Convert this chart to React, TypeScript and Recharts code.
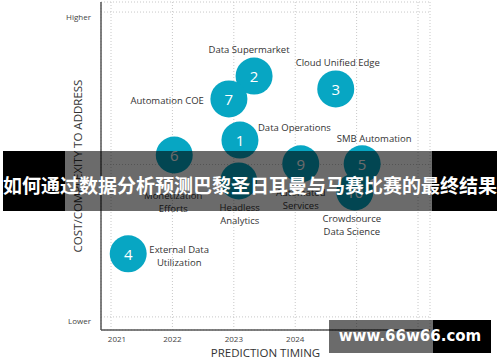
import React from "react";
import { ScatterChart, Scatter, XAxis, YAxis, CartesianGrid, Label } from "recharts";

// bubble data (x = expected year, y = cost / complexity, 0 lower .. 10 higher)
const ids = [1, 2, 3, 4, 5, 6, 7, 8, 9, 10];
const names = [
  "Data Operations",
  "Data Supermarket",
  "Cloud Unified Edge",
  "External Data\nUtilization",
  "SMB Automation",
  "Monetization\nEfforts",
  "Automation COE",
  "Headless\nAnalytics",
  "Automated\nServices",
  "Crowdsource\nData Science",
];
const timing = [2023.1, 2023.33, 2024.66, 2021.28, 2025.09, 2022.03, 2022.92, 2023.08, 2024.09, 2024.97];
const complexity = [5.8, 7.9, 7.48, 2.07, 5.02, 5.31, 7.15, 4.46, 5.02, 4.1];

const gridYears = [2021, 2022, 2023, 2024, 2025, 2026];
const yearLabels = [2021, 2022, 2023, 2024];
const levelTicks = [0, 5, 10];
const levelLabels = ["Lower", "", "Higher"];

const title = "如何通过数据分析预测巴黎圣日耳曼与马赛比赛的最终结果";
const watermark = "www.66w66.com";

// where each bubble's caption sits relative to the bubble centre
const captionPlace: { dx: number; dy: number; anchor: "start" | "middle" | "end" }[] = [
  { dx: 18, dy: -13, anchor: "start" },
  { dx: -5, dy: -27, anchor: "middle" },
  { dx: 2, dy: -27, anchor: "middle" },
  { dx: 51, dy: -5, anchor: "middle" },
  { dx: 12, dy: -26, anchor: "middle" },
  { dx: -1, dy: 40, anchor: "middle" },
  { dx: -25, dy: 1, anchor: "end" },
  { dx: 1, dy: 26, anchor: "middle" },
  { dx: 0, dy: 28, anchor: "middle" },
  { dx: -3, dy: 26, anchor: "middle" },
];

const data = ids.map((id, i) => ({
  id,
  name: names[i],
  x: timing[i],
  y: complexity[i],
  place: captionPlace[i],
}));

const FONT = "'Open Sans', 'Noto Sans', sans-serif";
const BUBBLE = "#07a6c3";

const Bubble = (props: any) => {
  const { cx, cy, payload } = props;
  const lines: string[] = payload.name.split("\n");
  const p = payload.place;
  return (
    <g>
      <circle cx={cx} cy={cy} r={18.5} fill={BUBBLE} />
      <text
        x={cx}
        y={cy}
        textAnchor="middle"
        dominantBaseline="central"
        fill="#fff"
        fontSize={15}
        fontFamily={FONT}
      >
        {payload.id}
      </text>
      <text
        x={cx + p.dx}
        y={cy + p.dy}
        textAnchor={p.anchor}
        dominantBaseline="central"
        fill="#333"
        fontSize={9.5}
        fontFamily={FONT}
      >
        {lines.map((l, k) => (
          <tspan key={k} x={cx + p.dx} dy={k === 0 ? 0 : 13}>
            {l}
          </tspan>
        ))}
      </text>
    </g>
  );
};

const XTick = (props: any) => {
  const { x, y, payload } = props;
  if (!yearLabels.includes(payload.value)) return <g />;
  const shift = payload.value === 2021 ? 6 : 0;
  return (
    <text x={x + shift} y={y} textAnchor="middle" dominantBaseline="central" fontSize={8} fill="#444" fontFamily={FONT}>
      {payload.value}
    </text>
  );
};

const YTick = (props: any) => {
  const { x, y, payload } = props;
  const label = levelLabels[levelTicks.indexOf(payload.value)];
  if (!label) return <g />;
  return (
    <text x={x} y={y + 4} textAnchor="end" dominantBaseline="central" fontSize={8} fill="#444" fontFamily={FONT}>
      {label}
    </text>
  );
};

export default function App() {
  return (
    <div style={{ position: "absolute", left: 0, top: 0, width: 500, height: 362, background: "#fff" }}>
      <ScatterChart width={500} height={362} margin={{ top: 2, right: 70, bottom: 2, left: 55 }}>
        <CartesianGrid stroke="#c8c8c8" strokeDasharray="1 2" />
        <XAxis
          type="number"
          dataKey="x"
          domain={[2020.837, 2026.195]}
          ticks={gridYears}
          allowDataOverflow
          height={30}
          tick={<XTick />}
          tickLine={false}
          axisLine={{ stroke: "#555", strokeWidth: 1.5 }}
        >
          <Label value="PREDICTION TIMING" position="insideBottom" offset={3} fill="#333" fontSize={11.5} fontFamily={FONT} />
        </XAxis>
        <XAxis xAxisId="top" orientation="top" type="number" domain={[0, 1]} height={0} tick={false} tickLine={false} axisLine={{ stroke: "#8a8a8a", strokeWidth: 1.5 }} />
        <YAxis
          type="number"
          dataKey="y"
          domain={[-0.43, 10.33]}
          ticks={levelTicks}
          allowDataOverflow
          width={46}
          tick={<YTick />}
          tickLine={false}
          tickSize={0}
          tickMargin={10}
          axisLine={{ stroke: "#555", strokeWidth: 1.5 }}
        >
          <Label value="COST/COMPLEXITY TO ADDRESS" angle={-90} position="center" fill="#333" fontSize={11.5} fontFamily={FONT} />
        </YAxis>
        <YAxis yAxisId="right" orientation="right" type="number" domain={[0, 1]} width={0} tick={false} tickLine={false} axisLine={{ stroke: "#8a8a8a", strokeWidth: 1.5 }} />
        <Scatter data={data} shape={<Bubble />} isAnimationActive={false} />
      </ScatterChart>

      {/* headline banner laid over the picture */}
      <div style={{ position: "absolute", left: 3, top: 151, width: 62, height: 60, background: "#000" }} />
      <div style={{ position: "absolute", left: 65, top: 151, width: 367, height: 60, background: "rgba(0,0,0,0.58)" }} />
      <div style={{ position: "absolute", left: 432, top: 151, width: 65, height: 60, background: "#000" }} />
      <div
        style={{
          position: "absolute",
          left: 0,
          top: 171,
          width: 500,
          textAlign: "center",
          color: "#fff",
          fontWeight: 700,
          fontSize: 19,
          lineHeight: "28px",
          fontFamily: "'Noto Sans CJK SC', sans-serif",
          whiteSpace: "nowrap",
        }}
      >
        {title}
      </div>

      {/* site watermark */}
      <div style={{ position: "absolute", left: 329, top: 320, width: 104, height: 33, background: "rgba(0,0,0,0.58)" }} />
      <div style={{ position: "absolute", left: 433, top: 320, width: 58, height: 33, background: "#000" }} />
      <div
        style={{
          position: "absolute",
          left: 329,
          top: 320,
          width: 162,
          height: 33,
          lineHeight: "33px",
          textAlign: "center",
          color: "#fff",
          fontWeight: 700,
          fontSize: 15,
          fontFamily: "'DejaVu Sans', sans-serif",
          whiteSpace: "nowrap",
        }}
      >
        {watermark}
      </div>
    </div>
  );
}
